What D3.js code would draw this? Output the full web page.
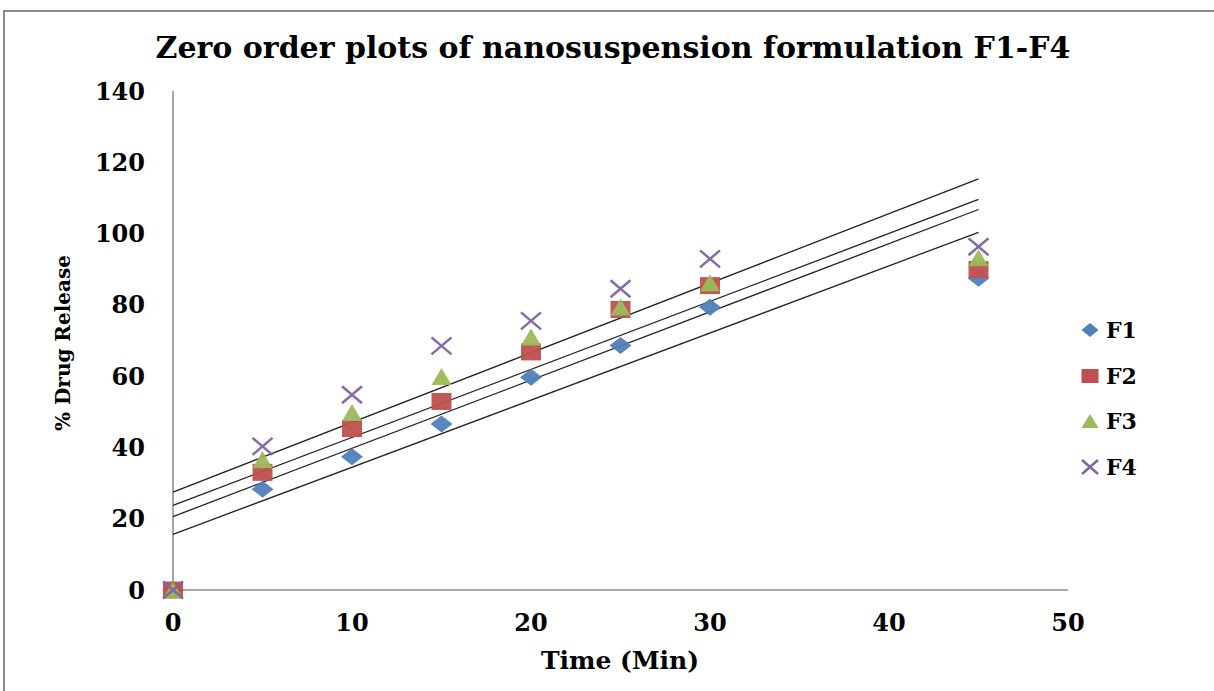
<!doctype html>
<html lang="en">

<head>
    <meta charset="UTF-8" />
    <script src="https://d3js.org/d3.v7.min.js"></script>
    <title>Zero order plots</title>
    <style>
        body { margin: 0; background: #fff; }
    </style>
</head>

<body>
    <div id="chart"></div>
    <script>
        // Data
        const time = [0, 5, 10, 15, 20, 25, 30, 45]
        const f1 = [0, 28.3, 37.4, 46.6, 59.7, 68.6, 79.3, 87.5]
        const f2 = [0, 33.0, 45.3, 52.9, 66.8, 78.7, 85.4, 89.9]
        const f3 = [0, 36.6, 49.8, 59.9, 71.0, 79.4, 86.2, 93.2]
        const f4 = [0, 40.3, 54.8, 68.5, 75.5, 84.5, 92.9, 96.3]
        const seriesNames = ["F1", "F2", "F3", "F4"]
        const xTicks = [0, 10, 20, 30, 40, 50]
        const yTicks = [0, 20, 40, 60, 80, 100, 120, 140]

        const W = 1214, H = 691
        const font = "'DejaVu Serif', serif"

        const svg = d3.select("#chart").append("svg")
            .attr("width", W).attr("height", H)

        // outer frame (top + left only visible)
        svg.append("path")
            .attr("d", `M${W},11 H4 V${H}`)
            .attr("fill", "none")
            .attr("stroke", "#8c8c8c")
            .attr("stroke-width", 2)

        const x = d3.scaleLinear().domain([0, 50]).range([173, 1068])
        const y = d3.scaleLinear().domain([0, 140]).range([590, 91])

        // axes
        svg.append("line")
            .attr("x1", x(0)).attr("x2", x(0))
            .attr("y1", y(0)).attr("y2", y(140))
            .attr("stroke", "#a6a6a6").attr("stroke-width", 2)
        svg.append("line")
            .attr("x1", x(0)).attr("x2", x(50))
            .attr("y1", y(0)).attr("y2", y(0))
            .attr("stroke", "#8c8c8c").attr("stroke-width", 1.5)

        svg.selectAll(".ytick").data(yTicks).enter().append("text")
            .attr("class", "ytick")
            .attr("x", 145).attr("y", d => y(d))
            .attr("text-anchor", "end")
            .attr("dominant-baseline", "central")
            .style("font-family", font).style("font-weight", "bold").style("font-size", "24px")
            .text(d => d)

        svg.selectAll(".xtick").data(xTicks).enter().append("text")
            .attr("class", "xtick")
            .attr("x", d => x(d)).attr("y", 622)
            .attr("text-anchor", "middle")
            .attr("dominant-baseline", "central")
            .style("font-family", font).style("font-weight", "bold").style("font-size", "24px")
            .text(d => d)

        // titles
        svg.append("text")
            .attr("x", 613).attr("y", 47)
            .attr("text-anchor", "middle").attr("dominant-baseline", "central")
            .style("font-family", font).style("font-weight", "bold").style("font-size", "30px")
            .text("Zero order plots of nanosuspension formulation F1-F4")

        svg.append("text")
            .attr("x", 620).attr("y", 660)
            .attr("text-anchor", "middle").attr("dominant-baseline", "central")
            .style("font-family", font).style("font-weight", "bold").style("font-size", "25px")
            .text("Time (Min)")

        svg.append("text")
            .attr("transform", "translate(63,343) rotate(-90)")
            .attr("text-anchor", "middle").attr("dominant-baseline", "central")
            .style("font-family", font).style("font-weight", "bold").style("font-size", "20px")
            .text("% Drug Release")

        const series = [f1, f2, f3, f4].map((vals, i) => ({
            name: seriesNames[i],
            points: time.map((t, j) => ({ t: t, v: vals[j] }))
        }))

        const colors = ["#4f81bd", "#c0504d", "#9bbb59", "#8064a2"]

        // linear trend lines (least squares)
        function fit(points) {
            const mx = d3.mean(points, p => p.t), my = d3.mean(points, p => p.v)
            const sxy = d3.sum(points, p => (p.t - mx) * (p.v - my))
            const sxx = d3.sum(points, p => (p.t - mx) * (p.t - mx))
            const slope = sxy / sxx
            return { slope: slope, icpt: my - slope * mx }
        }

        const tMin = d3.min(time), tMax = d3.max(time)
        series.forEach(s => {
            const f = fit(s.points)
            svg.append("line")
                .attr("x1", x(tMin)).attr("y1", y(f.icpt + f.slope * tMin))
                .attr("x2", x(tMax)).attr("y2", y(f.icpt + f.slope * tMax))
                .attr("stroke", "#222").attr("stroke-width", 1.3)
        })

        // marker shapes, w x h
        function markerPath(kind, w, h) {
            const a = w / 2, b = h / 2
            if (kind === 0) return `M0,${-b} L${a},0 L0,${b} L${-a},0 Z`
            if (kind === 1) return `M${-a},${-b} H${a} V${b} H${-a} Z`
            if (kind === 2) return `M0,${-b} L${a},${b} L${-a},${b} Z`
            return `M${-a},${-b} L${a},${b} M${a},${-b} L${-a},${b}`
        }

        function drawMarker(g, kind, w, h) {
            const p = g.append("path").attr("d", markerPath(kind, w, h))
            if (kind === 3) {
                p.attr("fill", "none").attr("stroke", colors[kind]).attr("stroke-width", 2.5)
            } else {
                p.attr("fill", colors[kind])
            }
        }

        series.forEach((s, i) => {
            const w = i === 0 ? 22 : 20
            const h = 17
            s.points.forEach(p => {
                const g = svg.append("g")
                    .attr("transform", `translate(${x(p.t)},${y(p.v)})`)
                    .attr("opacity", 0.95)
                drawMarker(g, i, w, h)
            })
        })

        // legend
        const legendY = [330, 376, 421, 467]
        series.forEach((s, i) => {
            const g = svg.append("g").attr("transform", `translate(1090,${legendY[i]})`)
            drawMarker(g, i, i === 3 ? 16 : 17, 14)
            g.append("text")
                .attr("x", 16).attr("y", 0)
                .attr("dominant-baseline", "central")
                .style("font-family", font).style("font-weight", "bold").style("font-size", "22px")
                .text(s.name)
        })
    </script>
</body>

</html>
